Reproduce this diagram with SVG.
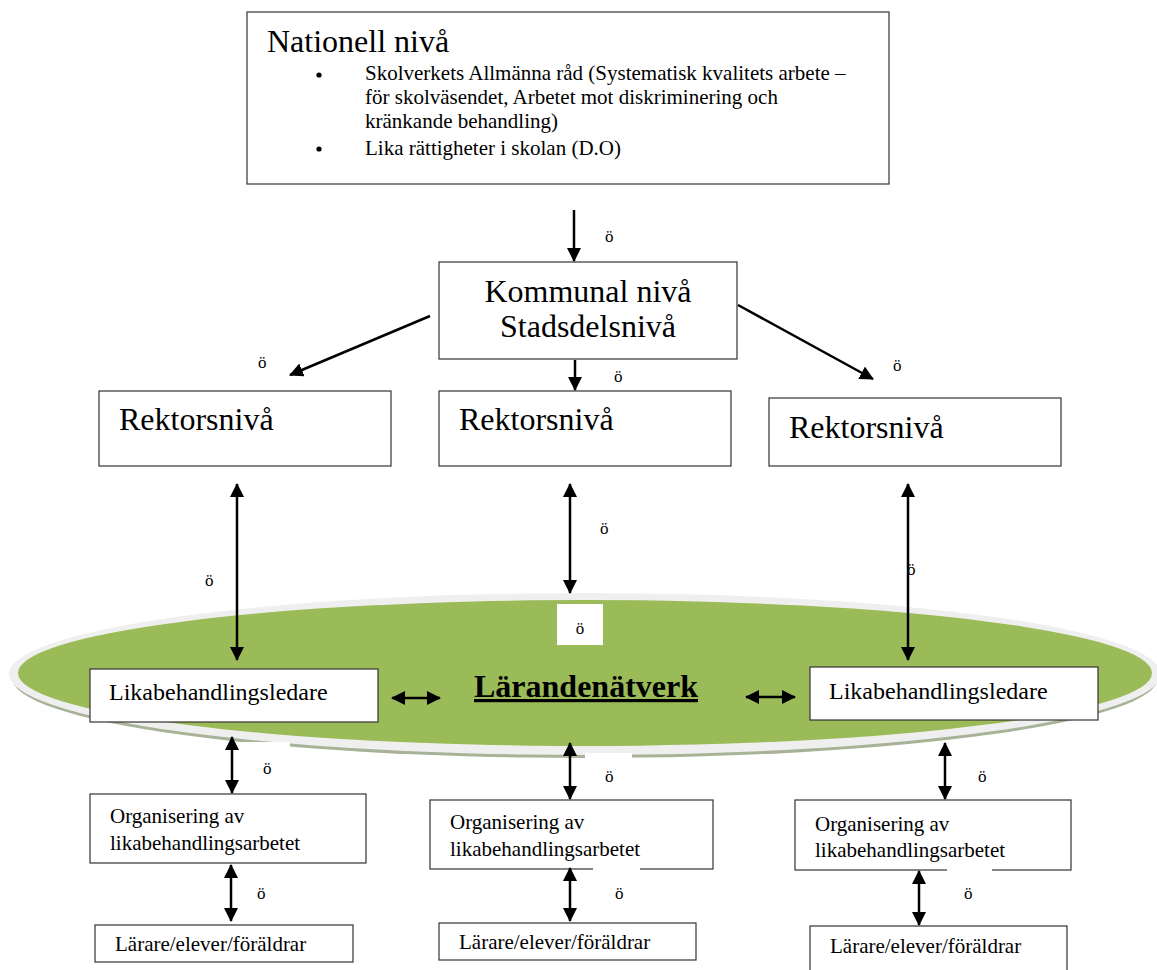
<svg xmlns="http://www.w3.org/2000/svg" width="1157" height="970" viewBox="0 0 1157 970" font-family="'Liberation Serif', 'Times New Roman', serif">
<defs>
<marker id="ah" markerUnits="userSpaceOnUse" markerWidth="14" markerHeight="14" viewBox="0 0 14 14" refX="13" refY="7" orient="auto-start-reverse"><path d="M0,0 L14,7 L0,14 Z" fill="#000"/></marker>
</defs>
<style>
text{fill:#000}
.box{fill:#fff;stroke:#333;stroke-width:1.2}
.big{font-size:32px}
.mid{font-size:21px}
.sm{font-size:21px}
.lk{font-size:24px}
.lbl{font-size:17px}
.c{stroke:#000;stroke-width:2.5;fill:none}
</style>
<rect width="1157" height="970" fill="#fff"/>

<g id="ellipse">
<ellipse cx="585" cy="678" rx="573" ry="80" fill="#a7b296"/>
<ellipse cx="585" cy="674" rx="576" ry="81" fill="#efefef"/>
<ellipse cx="585" cy="673" rx="567" ry="73" fill="#9bbb59"/>
<rect x="243" y="742" width="47" height="9" fill="#fff"/>
<rect x="585" y="753" width="47" height="14" fill="#fff"/>
<rect x="557" y="604" width="46" height="41" fill="#fff"/>
<text x="580" y="634" class="lbl" text-anchor="middle">ö</text>
<text x="586" y="697" font-size="32" font-weight="bold" text-anchor="middle" text-decoration="underline">Lärandenätverk</text>
</g>

<g id="nationell">
<rect class="box" x="247" y="12" width="642" height="172"/>
<text x="267" y="52" font-size="32">Nationell nivå</text>
<circle cx="319" cy="75" r="2.6" fill="#000"/>
<circle cx="319" cy="149" r="2.6" fill="#000"/>
<text x="365" y="80" class="mid">Skolverkets Allmänna råd (Systematisk kvalitets arbete –</text>
<text x="365" y="104" class="mid">för skolväsendet, Arbetet mot diskriminering och</text>
<text x="365" y="128" class="mid">kränkande behandling)</text>
<text x="365" y="155" class="mid">Lika rättigheter i skolan (D.O)</text>
</g>

<g id="kommunal">
<rect class="box" x="439" y="262" width="298" height="97"/>
<text x="588" y="302" class="big" text-anchor="middle">Kommunal nivå</text>
<text x="588" y="337" class="big" text-anchor="middle">Stadsdelsnivå</text>
</g>

<g id="rektor1"><rect class="box" x="99" y="391" width="292" height="75"/><text x="119" y="430" class="big">Rektorsnivå</text></g>
<g id="rektor2"><rect class="box" x="439" y="391" width="292" height="75"/><text x="459" y="430" class="big">Rektorsnivå</text></g>
<g id="rektor3"><rect class="box" x="769" y="398" width="292" height="68"/><text x="789" y="438" class="big">Rektorsnivå</text></g>

<g id="lika1"><rect class="box" x="90" y="669" width="288" height="53"/><text x="109" y="700" class="lk">Likabehandlingsledare</text></g>
<g id="lika2"><rect class="box" x="810" y="667" width="288" height="53"/><text x="829" y="699" class="lk">Likabehandlingsledare</text></g>

<g id="org1"><rect class="box" x="90" y="794" width="276" height="69"/><text x="110" y="823" class="sm">Organisering av</text><text x="110" y="850" class="sm">likabehandlingsarbetet</text></g>
<g id="org2"><rect class="box" x="430" y="800" width="283" height="69"/><text x="450" y="829" class="sm">Organisering av</text><text x="450" y="856" class="sm">likabehandlingsarbetet</text></g>
<g id="org3"><rect class="box" x="795" y="800" width="276" height="70"/><text x="815" y="831" class="sm">Organisering av</text><text x="815" y="857" class="sm">likabehandlingsarbetet</text></g>

<g id="larare1"><rect class="box" x="95" y="925" width="258" height="37"/><text x="115" y="951" class="sm">Lärare/elever/föräldrar</text></g>
<g id="larare2"><rect class="box" x="439" y="923" width="257" height="37"/><text x="459" y="949" class="sm">Lärare/elever/föräldrar</text></g>
<g id="larare3"><rect class="box" x="810" y="926" width="257" height="50"/><text x="830" y="953" class="sm">Lärare/elever/föräldrar</text></g>

<g id="connectors">
<line class="c" x1="574" y1="210" x2="574" y2="261" marker-end="url(#ah)"/>
<line class="c" x1="430" y1="316" x2="290" y2="375" marker-end="url(#ah)"/>
<line class="c" x1="738" y1="305" x2="873" y2="379" marker-end="url(#ah)"/>
<line class="c" x1="575" y1="360" x2="575" y2="390" marker-end="url(#ah)"/>
<line class="c" x1="237" y1="484" x2="237" y2="660" marker-start="url(#ah)" marker-end="url(#ah)"/>
<line class="c" x1="570" y1="484" x2="570" y2="593" marker-start="url(#ah)" marker-end="url(#ah)"/>
<line class="c" x1="908" y1="484" x2="908" y2="660" marker-start="url(#ah)" marker-end="url(#ah)"/>
<line class="c" x1="392" y1="698" x2="440" y2="698" marker-start="url(#ah)" marker-end="url(#ah)"/>
<line class="c" x1="746" y1="697" x2="795" y2="697" marker-start="url(#ah)" marker-end="url(#ah)"/>
<line class="c" x1="232" y1="737" x2="232" y2="793" marker-start="url(#ah)" marker-end="url(#ah)"/>
<line class="c" x1="570" y1="743" x2="570" y2="799" marker-start="url(#ah)" marker-end="url(#ah)"/>
<line class="c" x1="945" y1="743" x2="945" y2="799" marker-start="url(#ah)" marker-end="url(#ah)"/>
<line class="c" x1="231" y1="865" x2="231" y2="921" marker-start="url(#ah)" marker-end="url(#ah)"/>
<line class="c" x1="570" y1="868" x2="570" y2="921" marker-start="url(#ah)" marker-end="url(#ah)"/>
<line class="c" x1="919" y1="871" x2="919" y2="925" marker-start="url(#ah)" marker-end="url(#ah)"/>
</g>

<g id="labels">
<rect x="593" y="867" width="47" height="4" fill="#fff"/>
<rect x="947" y="868" width="45" height="4" fill="#fff"/>
<text x="605" y="242" class="lbl">ö</text>
<text x="258" y="368" class="lbl">ö</text>
<text x="614" y="382" class="lbl">ö</text>
<text x="893" y="371" class="lbl">ö</text>
<text x="205" y="586" class="lbl">ö</text>
<text x="600" y="534" class="lbl">ö</text>
<text x="907" y="575" class="lbl">ö</text>
<text x="263" y="774" class="lbl">ö</text>
<text x="605" y="782" class="lbl">ö</text>
<text x="978" y="782" class="lbl">ö</text>
<text x="257" y="899" class="lbl">ö</text>
<text x="615" y="899" class="lbl">ö</text>
<text x="964" y="899" class="lbl">ö</text>
</g>
</svg>
